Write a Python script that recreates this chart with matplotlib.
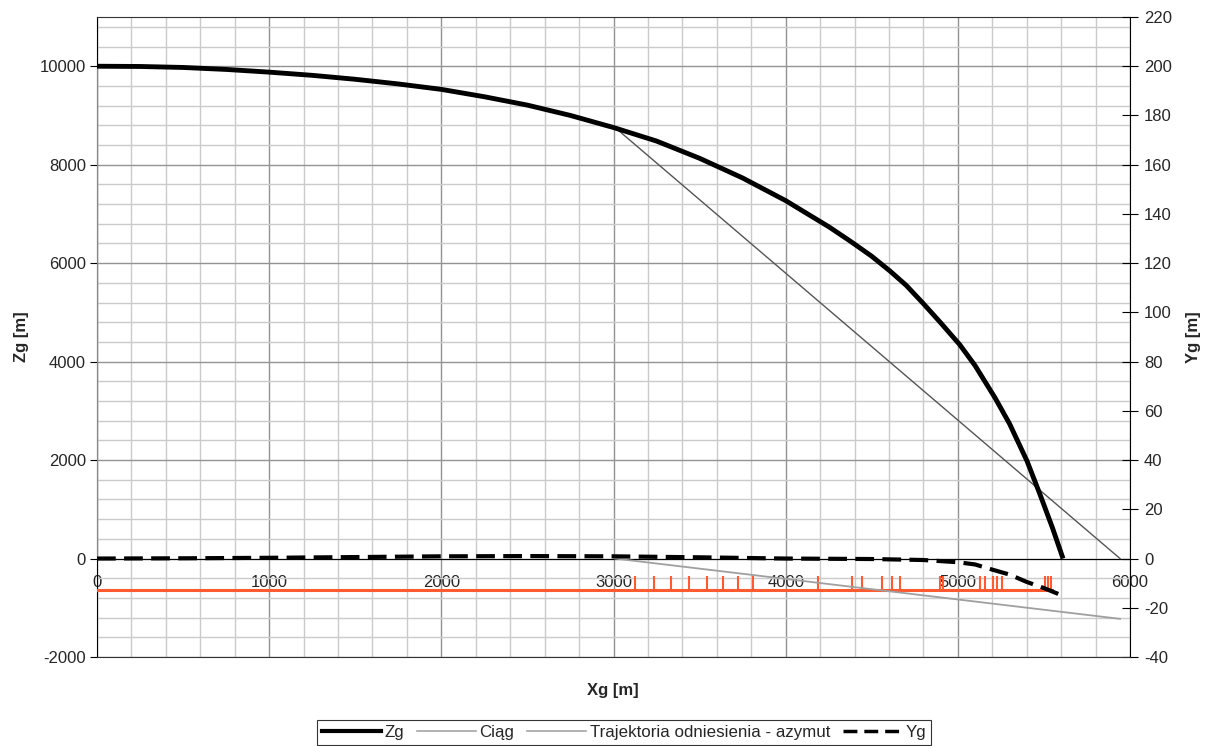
import numpy as np
import matplotlib
matplotlib.use('Agg')
import matplotlib.pyplot as plt
from matplotlib.lines import Line2D
from matplotlib.ticker import MultipleLocator

plt.rcParams['font.family'] = ['Liberation Sans', 'DejaVu Sans']
plt.rcParams['axes.unicode_minus'] = False

# Zg - wysokosc [m] (os lewa)
zg_x = [0, 250, 500, 750, 1000, 1250, 1500, 1750, 2000, 2250, 2500, 2750,
        3000, 3250, 3500, 3750, 4000, 4250, 4374, 4500, 4606, 4700, 4798,
        4900, 5012, 5100, 5216, 5300, 5402, 5477, 5550, 5611]
zg = [10000, 9995, 9975, 9935, 9880, 9815, 9735, 9640, 9530, 9380, 9210, 9000,
      8755, 8480, 8130, 7730, 7270, 6740, 6450, 6140, 5840, 5550, 5185,
      4790, 4340, 3920, 3265, 2740, 1980, 1305, 620, 0]

# Yg - odchylenie boczne [m] (os prawa)
yg_x = [0, 500, 1000, 1500, 2000, 2500, 3000, 3500, 4000, 4500, 4800, 5000,
        5100, 5200, 5300, 5400, 5500, 5605]
yg = [0, 0.1, 0.3, 0.6, 0.9, 1.0, 0.9, 0.5, 0.0, -0.2, -0.6, -1.5,
      -2.4, -4.5, -6.5, -9.5, -12.0, -15.0]

# linia prosta od punktu (3000, 8750) do ziemi
ciag_x = [3009, 5942]
ciag_z = [8755, 0]

# trajektoria odniesienia - azymut (os prawa)
traj_x = [3009, 5942]
traj_y = [0, -24.5]

# pionowy odcinek przy x = 0
pion_x = [0, 0]
pion_z = [0, 10000]

# czerwona linia z impulsami
red_x = [0, 5545]
red_base = -630
red_peak = -360
red_spikes = [3125, 3235, 3334, 3439, 3543, 3636, 3723, 3810, 4188,
              4385, 4443, 4559, 4617, 4664, 4896, 4914, 5129, 5160,
              5204, 5227, 5256, 5506, 5524, 5541]

fig = plt.figure(figsize=(12.07, 7.46), dpi=100)
ax = fig.add_axes([97/1207, 1-657/746, (1130-97)/1207, (657-17)/746])
ax2 = ax.twinx()

ax.set_xlim(0, 6000)
ax.set_ylim(-2000, 11000)
ax2.set_ylim(-40, 220)

ax.xaxis.set_major_locator(MultipleLocator(1000))
ax.xaxis.set_minor_locator(MultipleLocator(200))
ax.yaxis.set_major_locator(MultipleLocator(2000))
ax.yaxis.set_minor_locator(MultipleLocator(400))
ax2.yaxis.set_major_locator(MultipleLocator(20))

ax.grid(which='major', color='#939393', lw=1)
ax.grid(which='minor', color='#cbcbcb', lw=1)
ax.set_axisbelow(True)

txt = '#262626'
ax.spines['bottom'].set_position(('data', 0))
ax.spines['bottom'].set_color('black')
ax.spines['top'].set_color('#333333')
ax.spines['right'].set_visible(False)
ax.spines['left'].set_color('black')
ax.tick_params(axis='x', which='both', length=0, pad=12, labelsize=12, colors=txt)
ax.tick_params(axis='y', which='major', length=5, direction='out', pad=3,
               labelsize=12, colors=txt)
ax.tick_params(axis='y', which='minor', length=0)
ax.tick_params(axis='y', color='black')

for s in ['left', 'top']:
    ax2.spines[s].set_visible(False)
ax2.spines['bottom'].set_color('#333333')
ax2.spines['right'].set_color('black')
ax2.tick_params(axis='y', length=12, direction='inout', pad=4, labelsize=12,
                labelcolor=txt, color='black')

# serie
ax.plot(pion_x, pion_z, color='#a08c28', lw=1.5, zorder=3)
ax.plot(red_x, [red_base, red_base], color='#ff5a30', lw=2.2, zorder=3)
ax.vlines(red_spikes, red_base, red_peak, color='#ff5a30', lw=1.5, zorder=3)
ax.plot(ciag_x, ciag_z, color='#555555', lw=1, zorder=4)
ax.plot(zg_x, zg, color='black', lw=3.5, zorder=6, solid_capstyle='butt',
        solid_joinstyle='round')
ax2.plot(traj_x, traj_y, color='#a0a0a0', lw=1.3, zorder=4)
ax2.plot(yg_x, yg, color='black', lw=3, ls=(0, (4.5, 2)), zorder=5)

ax.set_ylabel('Zg [m]', fontsize=12, fontweight='bold', color=txt, labelpad=8)
ax2.set_ylabel('Yg [m]', fontsize=12, fontweight='bold', color=txt, labelpad=10)
fig.text(613/1207, 1-690/746, 'Xg [m]', fontsize=12, fontweight='bold',
         color=txt, ha='center', va='center')

handles = [Line2D([], [], color='black', lw=3),
           Line2D([], [], color='#a6a6a6', lw=1.2),
           Line2D([], [], color='#a6a6a6', lw=1.2),
           Line2D([], [], color='black', lw=2.5, ls=(0, (4, 2)))]
labels = ['Zg', 'Ciąg', 'Trajektoria odniesienia - azymut', 'Yg']
leg = fig.legend(handles, labels, loc='lower center', ncol=4,
                 bbox_to_anchor=(624/1207, 0.0), fontsize=12.2, frameon=True,
                 fancybox=False, edgecolor='black', handlelength=3.5,
                 handletextpad=0.2, columnspacing=0.75, borderpad=0.3,
                 borderaxespad=0.05)
leg.get_frame().set_linewidth(0.8)
for t in leg.get_texts():
    t.set_color(txt)

fig.savefig('out.png', dpi=100)
